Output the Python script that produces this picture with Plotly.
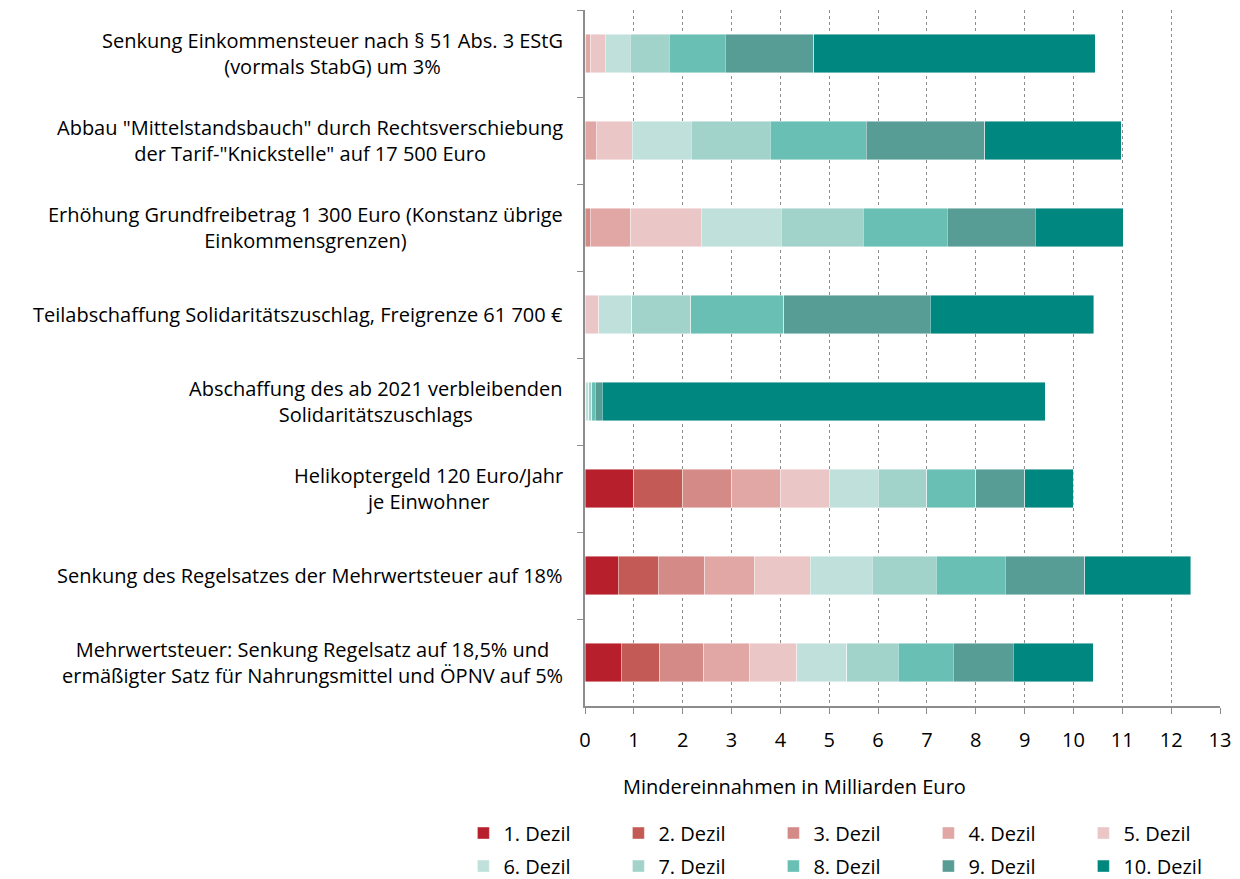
import plotly.graph_objects as go

categories = [
    "Senkung Einkommensteuer nach § 51 Abs. 3 EStG<br>(vormals StabG) um 3%",
    'Abbau "Mittelstandsbauch" durch Rechtsverschiebung<br>der Tarif-"Knickstelle" auf 17 500 Euro',
    "Erhöhung Grundfreibetrag 1 300 Euro (Konstanz übrige<br>Einkommensgrenzen)",
    "Teilabschaffung Solidaritätszuschlag, Freigrenze 61 700 €",
    "Abschaffung des ab 2021 verbleibenden<br>Solidaritätszuschlags",
    "Helikoptergeld 120 Euro/Jahr<br>je Einwohner",
    "Senkung des Regelsatzes der Mehrwertsteuer auf 18%",
    "Mehrwertsteuer: Senkung Regelsatz auf 18,5% und<br>ermäßigter Satz für Nahrungsmittel und ÖPNV auf 5%",
]

dezil_names = ["1. Dezil", "2. Dezil", "3. Dezil", "4. Dezil", "5. Dezil",
               "6. Dezil", "7. Dezil", "8. Dezil", "9. Dezil", "10. Dezil"]

d1 = [0.00, 0.00, 0.00, 0.00, 0.00, 1.00, 0.68, 0.74]
d2 = [0.00, 0.00, 0.00, 0.00, 0.00, 1.00, 0.82, 0.79]
d3 = [0.02, 0.00, 0.11, 0.00, 0.00, 1.00, 0.95, 0.90]
d4 = [0.10, 0.23, 0.83, 0.00, 0.00, 1.00, 1.03, 0.94]
d5 = [0.29, 0.74, 1.44, 0.28, 0.02, 1.00, 1.13, 0.97]
d6 = [0.52, 1.21, 1.64, 0.68, 0.06, 1.00, 1.27, 1.02]
d7 = [0.79, 1.61, 1.68, 1.20, 0.06, 1.00, 1.31, 1.05]
d8 = [1.15, 1.97, 1.72, 1.91, 0.07, 1.00, 1.41, 1.13]
d9 = [1.81, 2.42, 1.80, 3.00, 0.14, 1.00, 1.63, 1.23]
d10 = [5.77, 2.80, 1.80, 3.35, 9.07, 1.00, 2.17, 1.63]
series = [d1, d2, d3, d4, d5, d6, d7, d8, d9, d10]

colors = ["#B71F2C", "#C45A55", "#D48A87", "#E0A7A5", "#EAC7C6",
          "#C0E1DB", "#A2D3CB", "#69BFB3", "#589C96", "#00877F"]

xticks = list(range(0, 14))

FONT = "Open Sans"
FS = 20

fig = go.Figure()
for i, (name, vals) in enumerate(zip(dezil_names, series)):
    fig.add_trace(go.Bar(
        y=categories, x=vals, name=name, orientation="h",
        marker=dict(color=colors[i], line=dict(color="rgba(255,255,255,0.55)", width=0.8)),
        legend="legend" if i < 5 else "legend2",
        hoverinfo="x+name",
    ))

for cat in categories:
    fig.add_annotation(
        x=0, xref="paper", y=cat, yref="y", text=cat, showarrow=False,
        xanchor="right", yanchor="middle", align="center", xshift=-20,
        font=dict(family=FONT, size=FS, color="#000000"),
    )

fig.add_annotation(
    x=0.33, xref="paper", xanchor="center", y=-0.116, yref="paper", yanchor="middle",
    text="Mindereinnahmen in Milliarden Euro", showarrow=False,
    font=dict(family=FONT, size=FS, color="#000000"),
)

legend_common = dict(
    orientation="h", xanchor="left", yanchor="middle", x=-0.1915,
    font=dict(family=FONT, size=FS, color="#000000"),
    entrywidth=110, entrywidthmode="pixels", itemwidth=30,
    traceorder="normal", bgcolor="rgba(0,0,0,0)",
)

fig.update_layout(
    barmode="stack",
    bargap=0.56,
    width=1232, height=871,
    margin=dict(l=577, r=20, t=2, b=173, autoexpand=False),
    plot_bgcolor="white", paper_bgcolor="white",
    font=dict(family=FONT, size=FS, color="#000000"),
    showlegend=True,
    legend=dict(y=-0.1825, **legend_common),
    legend2=dict(y=-0.230, **legend_common),
    xaxis=dict(
        range=[0, 13], tickvals=xticks, ticktext=[str(t) for t in xticks],
        showgrid=True, gridcolor="#8C8C8C", griddash="dot", gridwidth=1,
        showline=True, linecolor="#8C8C8C", linewidth=1.5,
        ticks="outside", ticklen=6, tickcolor="#8C8C8C",
        ticklabelstandoff=9,
        zeroline=False, tickfont=dict(family=FONT, size=FS, color="#000000"),
        fixedrange=True,
    ),
    yaxis=dict(
        categoryorder="array", categoryarray=categories, autorange="reversed",
        showticklabels=False, showline=True, linecolor="#8C8C8C", linewidth=1.5,
        ticks="outside", ticklen=6, tickcolor="#8C8C8C", tickson="boundaries",
        showgrid=False, zeroline=False, fixedrange=True,
    ),
)

fig.write_html("out.html")
